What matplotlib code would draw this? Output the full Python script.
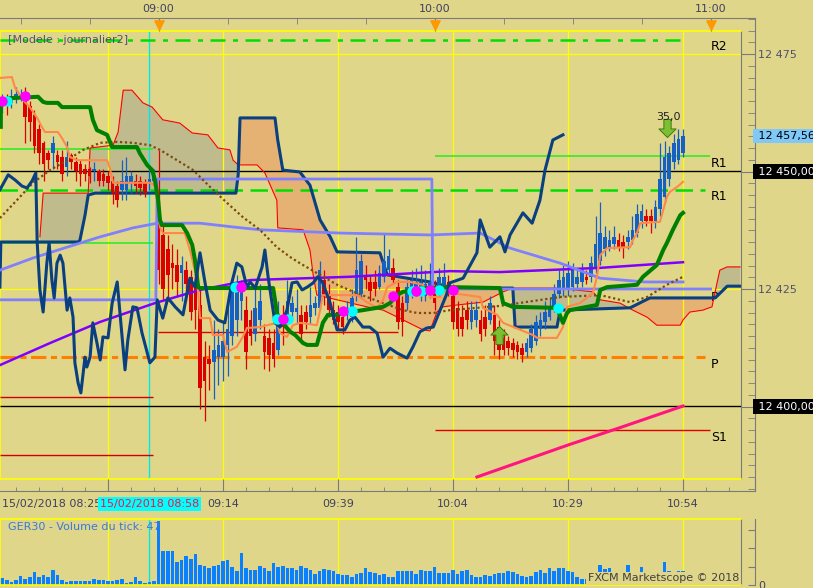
import numpy as np
import matplotlib
matplotlib.use("Agg")
import matplotlib.pyplot as plt
from matplotlib.path import Path
from matplotlib.ticker import FixedLocator, FuncFormatter
from matplotlib.transforms import blended_transform_factory

# ---------------- data : minutes after 08:00, prices in index points ----------------
first_minute = 26   # 1-minute candles, 08:26 -> 10:54

opens = [12464, 12465, 12464.5, 12465.5, 12465.5, 12466.5, 12464, 12462, 12459, 12456,
         12454, 12454, 12453.5, 12453, 12451, 12453.5, 12452, 12451.5, 12450.5, 12450.5,
         12450, 12450, 12449.5, 12449, 12448, 12447, 12446, 12446, 12447.5, 12448,
         12448, 12447.5, 12447.5, 12448, 12444, 12436.5, 12433.5, 12430.5, 12430, 12428.5,
         12429, 12427.5, 12426, 12421.5, 12410.5, 12410, 12409.5, 12410.5, 12410.5, 12413,
         12415, 12418.5, 12422.5, 12420.5, 12418.5, 12415.5, 12418.5, 12415, 12414.5, 12413.5,
         12412, 12419, 12418.5, 12420, 12420, 12419.5, 12420, 12419, 12421, 12421,
         12427, 12423.5, 12420.5, 12420, 12419, 12420, 12419, 12423.5, 12424, 12428,
         12426.5, 12426.5, 12425.5, 12427.5, 12429, 12429.5, 12425.5, 12422, 12422, 12424,
         12425, 12423.5, 12423.5, 12424.5, 12425, 12425, 12425, 12426.5, 12423.5, 12421,
         12419, 12420.5, 12418, 12418.5, 12418.5, 12419, 12418.5, 12419.5, 12417, 12414.5,
         12414, 12413.5, 12413, 12412.5, 12411.5, 12412.5, 12414, 12416.5, 12418, 12419,
         12421, 12424, 12425, 12425, 12425.5, 12426, 12426.5, 12427.5, 12427.5, 12429.5,
         12431, 12433.5, 12434, 12434.5, 12435.5, 12435, 12435, 12435.5, 12437, 12439.5,
         12440.5, 12440.5, 12439.5, 12442, 12444.5, 12448.5, 12452, 12452.5, 12454]
highs = [12466.5, 12466.5, 12467.5, 12468, 12467.5, 12468, 12465, 12463, 12460, 12456.5,
         12454.5, 12457.5, 12454.5, 12454.5, 12456.5, 12454, 12453, 12452.5, 12451.5, 12451,
         12452, 12450.5, 12450.5, 12450, 12449, 12448, 12452.5, 12453, 12450, 12449.5,
         12449, 12448.5, 12450.5, 12450.5, 12454.5, 12438.5, 12436.5, 12434.5, 12433.5, 12432,
         12431, 12429, 12428, 12425, 12414, 12413, 12418.5, 12416.5, 12418.5, 12422.5,
         12427, 12428, 12427, 12423.5, 12420.5, 12425, 12426, 12417.5, 12416.5, 12416.5,
         12422.5, 12421.5, 12427, 12423.5, 12425, 12421.5, 12421.5, 12425.5, 12423.5, 12431,
         12429, 12426, 12422.5, 12421.5, 12420.5, 12422.5, 12425, 12436, 12432.5, 12430,
         12428, 12429, 12430, 12437, 12433.5, 12431.5, 12427, 12423.5, 12427, 12429,
         12429.5, 12430, 12429, 12430.5, 12427, 12429.5, 12430.5, 12428, 12426, 12422.5,
         12421.5, 12422.5, 12422.5, 12422.5, 12420.5, 12421.5, 12423.5, 12421.5, 12418.5, 12416.5,
         12415, 12414.5, 12414, 12413.5, 12414.5, 12417.5, 12419.5, 12420, 12422.5, 12423,
         12426, 12429, 12430, 12431, 12430.5, 12429.5, 12430.5, 12429, 12432, 12440.5,
         12443.5, 12438.5, 12437.5, 12438.5, 12437, 12436.5, 12437.5, 12440.5, 12443, 12443,
         12442, 12442, 12444, 12456, 12456.5, 12455.5, 12458, 12459, 12459]
lows = [12462.5, 12462, 12463.5, 12464.5, 12465, 12456, 12456.5, 12454, 12451.5, 12448,
        12450.5, 12450.5, 12450.5, 12448, 12449, 12450.5, 12448, 12447, 12448, 12447.5,
        12448, 12447, 12447, 12446, 12443, 12442.5, 12444, 12444, 12445.5, 12445.5,
        12445, 12444.5, 12446, 12447, 12426, 12422.5, 12422.5, 12425, 12423.5, 12422.5,
        12422.5, 12418.5, 12416.5, 12399.5, 12397, 12403.5, 12401.5, 12404.5, 12405.5, 12406.5,
        12413, 12415, 12418.5, 12408, 12413, 12414, 12416.5, 12408, 12407.5, 12408.5,
        12411, 12413, 12417.5, 12418.5, 12417.5, 12414, 12416.5, 12417.5, 12419.5, 12420.5,
        12421.5, 12419, 12417.5, 12416.5, 12415.5, 12418.5, 12418, 12422.5, 12423, 12425,
        12422.5, 12423.5, 12425, 12426.5, 12428, 12426, 12416.5, 12415, 12420.5, 12423,
        12423.5, 12422.5, 12422.5, 12423, 12420.5, 12423.5, 12424.5, 12423.5, 12416.5, 12415,
        12415, 12416.5, 12416.5, 12417, 12414, 12415, 12417.5, 12411, 12410, 12411,
        12411, 12410.5, 12410, 12409.5, 12410.5, 12411.5, 12413, 12415, 12416.5, 12418.5,
        12420, 12423, 12423.5, 12423.5, 12424.5, 12425, 12425.5, 12426, 12426.5, 12428.5,
        12430, 12432, 12433, 12433.5, 12433, 12431.5, 12433.5, 12434.5, 12436, 12438,
        12438.5, 12437, 12438, 12440.5, 12443.5, 12447, 12450.5, 12451.5, 12453]
closes = [12465, 12464, 12466, 12466.5, 12466.5, 12461.5, 12460.5, 12455.5, 12454, 12451.5,
          12452.5, 12456, 12452, 12449.5, 12453, 12452, 12450, 12449.5, 12449.5, 12449,
          12450.5, 12448, 12448, 12447.5, 12445.5, 12444, 12448, 12449, 12449, 12447,
          12446.5, 12445.5, 12448.5, 12449, 12429, 12425, 12428, 12429.5, 12426.5, 12430,
          12426, 12420, 12420.5, 12404, 12405.5, 12409, 12412, 12413, 12414, 12416.5,
          12425, 12425.5, 12425, 12411.5, 12415, 12421, 12422.5, 12411.5, 12411, 12410,
          12418, 12417, 12422.5, 12422, 12421, 12415.5, 12418, 12421.5, 12422, 12429,
          12423.5, 12420.5, 12418.5, 12418, 12417, 12421, 12423, 12429, 12431, 12427,
          12424.5, 12425, 12428.5, 12431, 12432, 12427, 12418, 12418, 12425.5, 12427,
          12426.5, 12426.5, 12426, 12426.5, 12422, 12427.5, 12427.5, 12425, 12418, 12416.5,
          12416.5, 12418.5, 12420.5, 12420.5, 12415.5, 12416.5, 12422, 12414, 12412, 12412,
          12412.5, 12412, 12411.5, 12411, 12413.5, 12416.5, 12418, 12418.5, 12420, 12421,
          12424, 12427, 12427.5, 12428.5, 12429, 12427.5, 12429, 12427, 12430.5, 12434.5,
          12437, 12436, 12435.5, 12436, 12434, 12434, 12436, 12437.5, 12441, 12441.5,
          12439.5, 12439.5, 12442.5, 12448.5, 12453, 12454, 12456, 12457, 12457.56]

volumes = [23, 15, 9, 17, 30, 20, 27, 41, 25, 34, 27, 50, 34, 16, 11, 12, 14, 14, 14, 14,
           20, 17, 17, 12, 14, 16, 20, 7, 9, 25, 12, 8, 10, 14, 210,
           110, 112, 112, 76, 80, 96, 85, 101, 66, 61, 56, 62, 65, 77, 83, 58, 47, 104, 55, 49,
           49, 63, 56, 47, 71, 60, 63, 56, 56, 49, 63, 56, 49, 36, 45, 51, 49, 47, 36, 34,
           34, 25, 36, 38, 55, 41, 38, 34, 36, 27, 25, 47, 45, 47, 47, 36, 50, 47, 47, 60,
           38, 38, 38, 49, 36, 47, 49, 34, 27, 27,
           34, 30, 36, 40, 38, 45, 41, 36, 30, 27,
           30, 41, 50, 38, 55, 45, 55, 55, 47, 41, 25, 20, 18, 22, 15, 66, 52, 56, 41, 30,
           20, 66, 20, 41, 60, 25, 15, 41, 41, 76, 47, 30, 47, 47]
last_volume = 47

# indicator lines as (minute, price) knots
tenkan_t = [25.5, 28.1, 28.8, 30.9, 32.0, 33.6, 34.6, 35.3, 38.1, 39.0, 40.1, 40.7, 42.3, 48.8, 49.4,
            50.1, 58.1, 59.7, 60.3, 60.9, 65.7, 66.8, 68.4, 69.0, 71.2, 71.8, 74.0, 74.9, 77.0, 78.3,
            79.2, 82.0, 85.7, 86.4, 87.9, 89.2, 90.7, 94.4, 95.1, 95.7, 103.1, 105.3, 107.5, 108.8, 109.7,
            111.8, 114.7, 117.5, 119.0, 121.2, 121.8, 129.9, 130.5, 133.6, 134.9, 141.4, 142.3, 146.6, 147.9,
            148.8, 151.6, 154.4, 155.3, 156.0, 157.5, 162.5, 163.1, 164.0, 164.7, 169.0, 169.7, 170.5, 171.2,
            172.7, 174.0]
tenkan_p = [12469.9, 12470.1, 12467.8, 12464.8, 12463.7, 12461.4, 12459.5, 12458.4, 12458.4, 12457.1,
            12455.2, 12453.1, 12452.4, 12452.4, 12450.7, 12447.6, 12447.6, 12446.7, 12438.2, 12436.9,
            12436.9, 12433.3, 12426.9, 12418.8, 12418.8, 12415.2, 12415.2, 12411.6, 12412.7, 12414.8,
            12416.7, 12416.9, 12417.8, 12415.6, 12414.8, 12417.3, 12417.8, 12417.3, 12420.5, 12423.7,
            12423.7, 12422.2, 12421.0, 12422.7, 12425.4, 12426.5, 12426.5, 12425.9, 12423.3, 12423.3,
            12424.4, 12423.3, 12421.0, 12419.5, 12417.8, 12415.2, 12414.6, 12414.6, 12416.9, 12421.2,
            12422.0, 12424.1, 12427.6, 12432.2, 12433.7, 12433.9, 12435.4, 12436.9, 12439.0, 12439.3,
            12441.8, 12444.6, 12445.7, 12446.7, 12447.8]

kijun_t = [25.7, 25.7, 26.2, 27.7, 33.8, 34.9, 35.7, 38.1, 39.0, 45.1, 45.7, 46.6, 48.8, 49.9, 55.3,
           55.9, 57.5, 58.6, 59.2, 59.9, 60.3, 60.7, 65.1, 66.2, 67.3, 67.9, 68.6, 69.0, 84.9, 85.3,
           85.7, 86.4, 88.6, 89.7, 91.4, 92.3, 94.4, 95.1, 95.7, 96.8, 98.8, 101.6, 104.4, 107.5, 108.8,
           110.3, 111.8, 113.1, 116.2, 118.3, 123.3, 134.2, 134.9, 137.0, 146.6, 147.9, 148.8, 149.4, 155.3,
           156.0, 157.5, 164.0, 165.3, 168.3, 169.7, 170.5, 171.8, 173.4, 174.0]
kijun_p = [12459.5, 12463.7, 12465.2, 12465.6, 12465.9, 12464.8, 12464.6, 12464.6, 12463.7, 12463.7,
           12461.0, 12458.8, 12457.8, 12455.2, 12455.2, 12453.9, 12451.4, 12450.3, 12448.2, 12443.9,
           12439.7, 12438.6, 12438.6, 12436.9, 12434.4, 12431.2, 12425.4, 12425.2, 12425.2, 12422.7,
           12419.9, 12418.4, 12415.9, 12415.2, 12413.5, 12413.1, 12413.1, 12415.6, 12417.8, 12419.5,
           12419.5, 12420.1, 12420.5, 12421.0, 12421.2, 12422.0, 12423.7, 12424.4, 12424.8, 12425.2,
           12425.4, 12425.2, 12422.0, 12421.2, 12421.0, 12417.8, 12419.9, 12420.5, 12421.6, 12424.8,
           12425.4, 12425.9, 12427.6, 12430.1, 12433.3, 12434.8, 12437.6, 12440.7, 12441.2]

chikou_t = [25.5, 27.3, 28.8, 30.3, 31.4, 32.5, 33.3, 33.6, 34.2, 34.9, 35.7, 36.2, 36.8, 37.3, 37.9,
            38.6, 39.2, 40.1, 40.7, 41.4, 41.8, 42.5, 43.1, 44.0, 44.4, 45.1, 45.7, 46.6, 47.3, 47.9,
            49.0, 49.9, 51.0, 51.6, 52.7, 53.3, 54.4, 55.3, 56.4, 58.1, 59.2, 59.7, 60.9, 62.0, 63.6,
            65.3, 66.8, 67.9, 69.0, 70.1, 71.2, 72.9, 74.4, 75.9, 77.0, 78.1, 79.2, 79.9, 81.0, 82.5,
            83.1, 83.8, 85.3, 86.4, 87.9, 89.0, 90.1, 91.2, 92.3, 93.6, 94.6, 95.7, 97.3, 98.8, 100.5,
            101.6, 102.7, 104.4, 105.9, 107.5, 108.8, 110.3, 111.8, 114.0, 115.3, 116.8, 118.3, 119.7, 121.2,
            122.7, 123.3, 126.2, 129.2, 129.9, 132.0, 134.2, 135.3, 136.4, 139.2, 141.2, 142.9, 144.0, 145.7,
            147.9]
chikou_p = [12446.1, 12449.3, 12448.2, 12446.9, 12446.5, 12448.0, 12449.7, 12435.0, 12424.8, 12420.1,
            12430.5, 12434.8, 12426.9, 12423.1, 12430.5, 12432.2, 12430.5, 12420.5, 12423.1, 12419.0,
            12409.3, 12405.0, 12402.9, 12410.5, 12408.4, 12410.5, 12417.8, 12413.5, 12409.9, 12414.8,
            12414.6, 12422.0, 12426.5, 12419.9, 12407.8, 12414.1, 12421.2, 12421.0, 12415.6, 12409.3,
            12410.5, 12422.7, 12418.8, 12423.1, 12421.2, 12419.5, 12427.3, 12425.4, 12432.7, 12426.3,
            12420.5, 12418.4, 12417.8, 12426.3, 12430.5, 12429.7, 12425.4, 12426.5, 12425.2, 12429.7,
            12433.3, 12427.6, 12417.8, 12416.9, 12420.5, 12426.3, 12426.5, 12424.8, 12425.4, 12426.3,
            12427.6, 12426.3, 12422.0, 12416.3, 12416.3, 12418.4, 12419.0, 12416.9, 12416.9, 12415.6,
            12410.5, 12412.4, 12411.4, 12410.3, 12412.7, 12415.9, 12416.7, 12416.9, 12420.5, 12424.1,
            12426.3, 12427.3, 12432.7, 12439.7, 12433.9, 12436.1, 12432.9, 12436.5, 12441.2, 12439.0,
            12443.9, 12450.3, 12456.7, 12457.8]

span_a_t = [34.2, 34.9, 44.7, 45.1, 50.1, 51.2, 52.3, 54.2, 56.6, 58.6, 60.9, 64.6, 67.3, 70.7, 72.9,
            75.5, 76.2, 77.3, 81.4, 83.1, 85.7, 85.9, 91.4, 92.9, 93.6, 94.4, 98.8, 105.3, 108.8, 110.9,
            114.0, 117.5, 119.0, 120.5, 121.8, 124.9, 130.5, 134.9, 137.0, 146.6, 154.4, 156.0, 160.3, 163.1,
            166.2, 168.3, 173.4, 174.0, 175.5, 178.3, 180.3, 181.4, 182.0, 183.6, 186.4]
span_a_p = [12436.1, 12445.4, 12445.4, 12455.0, 12455.6, 12458.4, 12467.3, 12467.3, 12464.6, 12463.7,
            12461.0, 12460.3, 12458.2, 12457.8, 12455.0, 12454.6, 12452.4, 12451.4, 12451.4, 12449.7,
            12443.9, 12438.0, 12437.6, 12433.3, 12428.0, 12423.7, 12422.7, 12421.2, 12420.5, 12419.5,
            12418.0, 12416.3, 12416.1, 12420.1, 12421.2, 12421.6, 12422.2, 12424.4, 12425.2, 12425.2,
            12424.4, 12422.7, 12422.0, 12420.5, 12419.0, 12417.3, 12417.3, 12418.4, 12420.1, 12420.5,
            12421.2, 12426.3, 12429.0, 12429.7, 12429.7]

span_b_t = [25.5, 25.7, 42.5, 42.9, 44.0, 44.7, 46.2, 76.8, 77.3, 77.7, 85.3, 85.9, 87.0, 90.7, 92.9,
            95.1, 97.3, 98.8, 108.1, 109.7, 119.0, 124.0, 137.0, 137.5, 146.6, 147.3, 162.5, 166.8, 181.0,
            183.6, 186.4]
span_b_p = [12425.4, 12435.0, 12435.0, 12435.4, 12440.7, 12445.0, 12445.4, 12445.4, 12449.3, 12461.4,
            12461.4, 12456.7, 12450.3, 12449.9, 12447.1, 12439.7, 12436.1, 12432.9, 12432.7, 12428.0,
            12426.5, 12425.2, 12425.2, 12416.9, 12416.9, 12420.5, 12421.0, 12423.1, 12423.1, 12425.6,
            12425.6]

sma_t = [25.5, 29.2, 32.7, 36.4, 40.1, 43.6, 47.3, 51.0, 54.4, 58.1, 60.3, 64.0, 67.5, 71.2, 74.9,
         78.3, 82.0, 85.7, 88.6, 90.7, 94.4, 98.8, 103.1, 108.8, 113.1, 116.2, 119.7, 123.3, 134.2, 147.3,
         156.0, 162.5, 166.2, 170.5, 174.0]
sma_p = [12440.1, 12443.9, 12447.6, 12450.3, 12452.4, 12454.6, 12456.1, 12456.3, 12456.1, 12455.6,
         12454.6, 12452.4, 12450.3, 12446.7, 12443.3, 12440.3, 12437.6, 12433.9, 12431.8, 12430.5,
         12428.4, 12425.9, 12424.1, 12422.0, 12420.5, 12419.9, 12419.9, 12420.5, 12421.4, 12423.3,
         12423.7, 12422.2, 12423.3, 12425.9, 12427.6]

ma_blue_t = [25.5, 32.7, 40.1, 47.3, 54.4, 59.7, 69.0, 76.2, 82.0, 99.4, 119.0, 129.9, 136.4, 147.3,
             156.0, 165.7, 174.0]
ma_blue_p = [12429.0, 12431.6, 12433.9, 12436.1, 12438.0, 12439.0, 12439.0, 12438.2, 12437.6, 12436.9,
             12436.5, 12436.9, 12433.7, 12430.5, 12427.3, 12426.5, 12426.5]

ma_purple_t = [25.5, 36.4, 47.3, 59.2, 69.0, 79.9, 101.6, 123.3, 134.2, 156.0, 174.0]
ma_purple_p = [12408.8, 12413.5, 12418.0, 12422.0, 12424.8, 12426.9, 12427.6, 12428.8, 12428.6,
               12429.5, 12430.7]

ma_pink_t = [129.2, 149.0, 160.3, 174.0]
ma_pink_p = [12385.0, 12391.8, 12395.5, 12400.1]

step_t = [25.5, 59.4, 59.7, 119.4, 119.6, 180.0]
step_p = [12422.7, 12422.7, 12448.4, 12448.4, 12425.0, 12425.0]

# pivot levels and other horizontal levels
r2_level, r2_span = 12478.0, (25.5, 173.4)
r1_level, r1_span = 12453.3, (120.1, 179.9)
r1b_level, r1b_span = 12446.1, (25.5, 178.8)
p_level, p_spans = 12410.5, [(25.5, 174.0), (176.8, 178.8)]
s1_level, s1_span = 12395.0, (120.1, 179.9)
old_green = [12454.8, 12434.8]
old_red = [12402.0, 12389.7]
old_span = (25.5, 58.8)
mid_red_level, mid_red_span = 12415.9, (59.9, 112.0)
alert_levels = [12450.0, 12400.0]
level_labels = ["R2", "R1", "R1", "P", "P", "S1"]
level_label_p = [12476.7, 12451.8, 12444.6, 12423.1, 12409.0, 12393.5]
level_label_t = 180.1

magenta_t = [26.0, 30.9, 77.9, 87.0, 100.1, 110.9, 116.0, 119.0, 124.0]
magenta_p = [12465.0, 12466.1, 12425.4, 12418.6, 12420.3, 12423.5, 12424.6, 12424.8, 12424.8]
cyan_t = [27.0, 76.6, 85.7, 88.1, 102.0, 115.1, 117.0, 121.0, 146.8]
cyan_p = [12465.0, 12425.4, 12418.6, 12418.6, 12420.3, 12424.6, 12424.6, 12424.8, 12421.0]
buy_arrow = (134.0, 12415.2)
sell_arrow = (170.5, 12459.3)
sell_text = "35,0"
cursor_minute = 58
last_price = 12457.56

# ---------------- layout ----------------
BG = "#e0d68a"
YEL = "#ffff00"
GRAY = "#7a7a7a"
TXT = "#404060"
W, H = 813, 588
X0, PPM = 25.52, 4.6               # minute at left edge, px per minute
P_REF, Y_REF, PPP = 12425, 289, 4.7  # price at pixel row, px per point


def fbox(x0, y0, x1, y1):
    return [x0 / W, 1 - y1 / H, (x1 - x0) / W, (y1 - y0) / H]


def xlim_px(x1):
    return (X0, X0 + x1 / PPM)


def ylim_px(y_top, y_bot):
    return (P_REF - (y_bot - Y_REF) / PPP, P_REF + (Y_REF - y_top) / PPP)


def hhmm(v):
    v = int(round(v)) + 8 * 60
    return f"{v // 60:02d}:{v % 60:02d}"


def price_txt(v):
    return f"{v:,.2f}".replace(",", " ").replace(".", ",")


plt.rcParams["font.family"] = ["DejaVu Sans"]
fig = plt.figure(figsize=(W / 100, H / 100), dpi=100, facecolor=BG)

ax = fig.add_axes(fbox(0, 31, 741, 479))
ax.set_facecolor(BG)
ax.set_xlim(*xlim_px(741))
ax.set_ylim(*ylim_px(31, 479))
ax.set_xticks([])
ax.set_yticks([])
for s in ["top", "bottom", "left"]:
    ax.spines[s].set_color(YEL)
    ax.spines[s].set_linewidth(1.2)
ax.spines["right"].set_color(GRAY)

grid_minutes = np.arange(49, 175, 25)

# cloud
g = np.linspace(span_a_t[0], span_a_t[-1], 3000)
ga = np.interp(g, span_a_t, span_a_p)
gb = np.interp(g, span_b_t, span_b_p)
ax.fill_between(g, ga, gb, where=ga >= gb, interpolate=True, color="#bfbb8c", lw=0, zorder=1)
ax.fill_between(g, ga, gb, where=ga < gb, interpolate=True, color="#e6b274", lw=0, zorder=1)

# grid
for m in grid_minutes:
    ax.axvline(m, color=YEL, lw=0.9, zorder=2)
for p in [12475, 12450, 12425, 12400]:
    ax.axhline(p, color=YEL, lw=0.9, zorder=2)
ax.axvline(cursor_minute, color="#00e8e8", lw=1.0, zorder=2)

# levels
ax.hlines(r2_level, *r2_span, color="#00e000", lw=1.8, linestyles=(0, (6, 3, 2, 3)), zorder=3)
ax.hlines(r1_level, *r1_span, color="#22ee22", lw=1.1, zorder=3)
ax.hlines(r1b_level, *r1b_span, color="#00e000", lw=1.8, linestyles=(0, (7, 3)), zorder=3)
for a, b in p_spans:
    ax.hlines(p_level, a, b, color="#ff8000", lw=2.2, linestyles=(0, (5, 1.5, 2, 1.5)), zorder=3)
ax.hlines(s1_level, *s1_span, color="#e00000", lw=1.0, zorder=3)
ax.hlines(old_green, *old_span, color="#22ee22", lw=1.1, zorder=3)
ax.hlines(old_red, *old_span, color="#d00000", lw=1.0, zorder=3)
ax.hlines(mid_red_level, *mid_red_span, color="#e00000", lw=1.0, zorder=3)
ax.hlines(alert_levels, *xlim_px(741), color="black", lw=1.0, zorder=3)
for name, p in zip(level_labels, level_label_p):
    ax.text(level_label_t, p, name, fontsize=9, color="black", va="center", ha="left", zorder=3.5)
ax.text(8 / 741, (479 - 40) / 448, "[Modele : journalier2]", transform=ax.transAxes,
        fontsize=8, color="#505078", va="center", ha="left", zorder=3.5)

# senkou spans
ax.plot(span_a_t, span_a_p, color="#ff0000", lw=0.8, zorder=4)
ax.plot(span_b_t, span_b_p, color="#0a3f80", lw=2.2, zorder=4)

# candles
t = first_minute + np.arange(len(closes))
o, h, l, c = map(np.asarray, (opens, highs, lows, closes))
col = np.where(c >= o, "#1560c4", "#dd0000")
ax.vlines(t, l, h, colors=col, lw=0.9, zorder=5)
body = np.maximum(np.abs(c - o), 0.4)
ax.bar(t, body, bottom=np.minimum(o, c), width=0.75, color=col, lw=0, zorder=5)

# moving averages / lines
ax.plot(ma_purple_t, ma_purple_p, color="#8000ff", lw=1.8, zorder=6)
ax.plot(ma_blue_t, ma_blue_p, color="#8080ff", lw=2.0, zorder=6)
ax.plot(step_t, step_p, color="#8080ff", lw=2.0, zorder=6)
ax.plot(ma_pink_t, ma_pink_p, color="#ff1480", lw=2.2, zorder=6)
ax.plot(sma_t, sma_p, color="#7a4a10", lw=1.6, linestyle=(0, (1, 1.2)), zorder=6)
ax.plot(tenkan_t, tenkan_p, color="#ff8848", lw=1.5, zorder=7)
ax.plot(kijun_t, kijun_p, color="#008000", lw=2.9, zorder=7)
ax.plot(chikou_t, chikou_p, color="#0a3f80", lw=2.2, zorder=8)

ax.plot(cyan_t, cyan_p, "o", ms=7.5, color="#00ffff", mec="none", zorder=9)
ax.plot(magenta_t, magenta_p, "o", ms=7.5, color="#ff00ff", mec="none", zorder=9)

up = Path([(0, 1), (0.95, 0.05), (0.4, 0.05), (0.4, -1), (-0.4, -1), (-0.4, 0.05), (-0.95, 0.05), (0, 1)],
          closed=True)
down = Path([(x, -y) for x, y in up.vertices], closed=True)
ax.scatter(*buy_arrow, marker=up, s=170, c="#7cc032", edgecolors="#3f7a10", linewidths=0.7, zorder=10)
ax.scatter(*sell_arrow, marker=down, s=170, c="#7cc032", edgecolors="#3f7a10", linewidths=0.7, zorder=10)
ax.text(sell_arrow[0] + 0.3, sell_arrow[1] + 2.4, sell_text, fontsize=8, ha="center", va="center",
        color="#202020", zorder=10)

# price axis / top time axis
ax_p = fig.add_axes(fbox(0, 18, 755, 491), facecolor="none")
ax_p.set_xlim(*xlim_px(755))
ax_p.set_ylim(*ylim_px(18, 491))
for s in ["left", "bottom"]:
    ax_p.spines[s].set_visible(False)
for s in ["top", "right"]:
    ax_p.spines[s].set_color(GRAY)
ax_p.yaxis.tick_right()
ax_p.yaxis.set_major_locator(FixedLocator([12400, 12425, 12450, 12475]))
ax_p.yaxis.set_minor_locator(FixedLocator(np.arange(12382.5, 12482.6, 2.5)))
# 12 450 and 12 400 are shown in the black alert boxes instead
ax_p.yaxis.set_major_formatter(FuncFormatter(
    lambda v, _: "" if v in alert_levels else f"{int(v):,}".replace(",", " ")))
ax_p.tick_params(axis="y", which="major", direction="in", length=10, color=GRAY,
                 labelsize=8, labelcolor="#505070", pad=2.5)
ax_p.tick_params(axis="y", which="minor", direction="in", length=5, color=GRAY)
ax_p.xaxis.tick_top()
ax_p.xaxis.set_major_locator(FixedLocator([60, 120, 180]))
ax_p.xaxis.set_minor_locator(FixedLocator(np.arange(30, 190, 15)))
ax_p.xaxis.set_major_formatter(FuncFormatter(lambda v, _: hhmm(v)))
ax_p.tick_params(axis="x", which="major", direction="in", length=9.4, color=GRAY,
                 labelsize=8, labelcolor=TXT, pad=3)
ax_p.tick_params(axis="x", which="minor", direction="in", length=4.3, color=GRAY)
ax_p.scatter([60, 120, 180], [0.986] * 3, marker="v", s=45, color="#ff9900",
             transform=ax_p.get_xaxis_transform(), clip_on=False, zorder=5)

tr = ax_p.get_yaxis_transform()
ax_p.text(1.0, last_price, " " + price_txt(last_price), transform=tr,
          fontsize=8, color="black", ha="left", va="center",
          bbox=dict(boxstyle="square,pad=0.2", fc="#80c8f8", ec="none"))
for lv in alert_levels:
    ax_p.text(1.0, lv, " " + price_txt(lv), transform=tr,
              fontsize=8, color="white", ha="left", va="center",
              bbox=dict(boxstyle="square,pad=0.2", fc="black", ec="none"))

# bottom time axis
ax_b = fig.add_axes(fbox(0, 479, 755, 491), facecolor="none")
ax_b.set_xlim(*xlim_px(755))
ax_b.set_ylim(0, 1)
ax_b.set_yticks([])
for s in ["top", "left"]:
    ax_b.spines[s].set_visible(False)
for s in ["bottom", "right"]:
    ax_b.spines[s].set_color(GRAY)
ax_b.xaxis.set_major_locator(FixedLocator(grid_minutes))
ax_b.xaxis.set_minor_locator(FixedLocator(np.arange(29, 186, 5)))
ax_b.xaxis.set_major_formatter(FuncFormatter(lambda v, _: "" if v < 60 else hhmm(v)))
ax_b.tick_params(axis="x", which="major", direction="in", length=8.6, color=GRAY,
                 labelsize=8, labelcolor=TXT, pad=5.5)
ax_b.tick_params(axis="x", which="minor", direction="in", length=2.9, color=GRAY)
trb = blended_transform_factory(ax_b.transData, ax_b.transAxes)
ax_b.text(X0 + 2 / PPM, -1.08, "15/02/2018 " + hhmm(X0 - 0.52), transform=trb, fontsize=8,
          color=TXT, ha="left", va="center")
ax_b.text(cursor_minute, -1.08, "15/02/2018 " + hhmm(cursor_minute), transform=trb, fontsize=8,
          color="#ff1040", ha="center", va="center",
          bbox=dict(boxstyle="square,pad=0.2", fc="#00ffff", ec="none"))

# volume panel
ax_v = fig.add_axes(fbox(0, 519, 741, 585))
ax_v.set_facecolor(BG)
ax_v.set_xlim(*xlim_px(741))
ax_v.set_ylim(0, 215)
ax_v.set_xticks([])
ax_v.set_yticks([])
for s in ["top", "bottom", "left"]:
    ax_v.spines[s].set_color(YEL)
    ax_v.spines[s].set_linewidth(1.2)
ax_v.spines["right"].set_color(GRAY)
for m in grid_minutes:
    ax_v.axvline(m, color=YEL, lw=0.9, zorder=1)
ax_v.axvline(cursor_minute, color="#00e8e8", lw=1.0, zorder=1)
ax_v.bar(first_minute + np.arange(len(volumes)), volumes, width=0.75, color="#0a80ff", lw=0, zorder=2)
ax_v.text(8 / 741, 0.88, f"GER30 - Volume du tick: {last_volume}", transform=ax_v.transAxes,
          fontsize=8, color="#3a78d8", ha="left", va="center", zorder=5)
ax_v.text(0.998, 0.1, "FXCM Marketscope \u00a9 2018", transform=ax_v.transAxes, fontsize=8,
          color="#404040", ha="right", va="center", zorder=5,
          bbox=dict(boxstyle="square,pad=0.15", fc=BG, ec="none"))

ax_vp = fig.add_axes(fbox(0, 519, 755, 585), facecolor="none")
ax_vp.set_xlim(*xlim_px(755))
ax_vp.set_ylim(0, 215)
ax_vp.set_xticks([])
for s in ["top", "left", "bottom"]:
    ax_vp.spines[s].set_visible(False)
ax_vp.spines["right"].set_color(GRAY)
ax_vp.yaxis.tick_right()
ax_vp.set_yticks([0, 60, 120, 180])
ax_vp.set_yticklabels(["0", "", "", ""])
ax_vp.tick_params(axis="y", direction="in", length=5, color=GRAY, labelsize=8, labelcolor=TXT, pad=2.5)

fig.savefig("out.png", dpi=100, facecolor=BG)
